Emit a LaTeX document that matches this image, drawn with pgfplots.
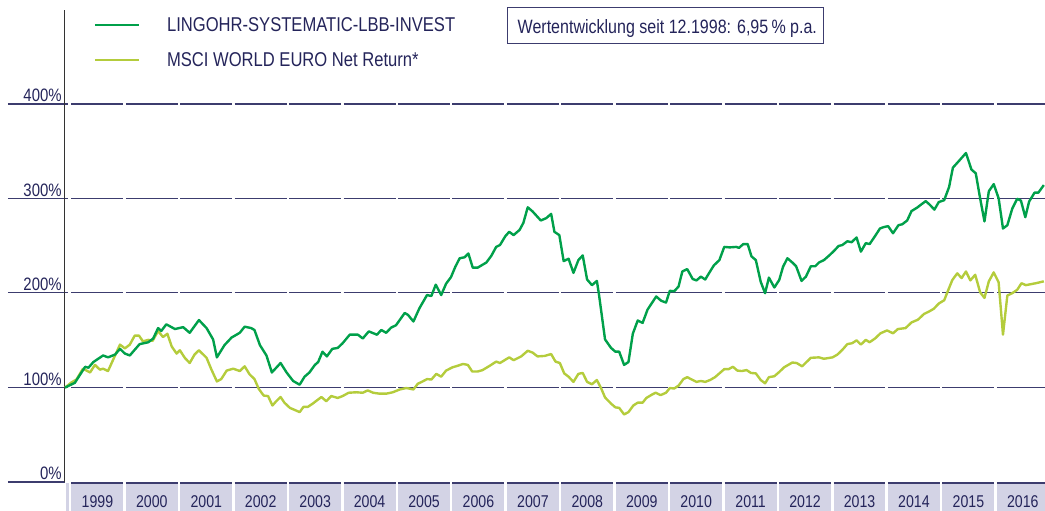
\documentclass[border=0pt]{standalone}
\usepackage{pgfplots}
\pgfplotsset{compat=1.18}
\usepackage{fontspec}
\setmainfont{Liberation Sans}[FakeStretch=0.83]

\definecolor{fundgreen}{HTML}{00A04A}
\definecolor{msciline}{HTML}{B4CC3C}
\definecolor{navy}{HTML}{24245A}
\definecolor{gridnavy}{HTML}{3C3C6E}
\definecolor{yearbox}{HTML}{D3D3E5}

% fund: LINGOHR-SYSTEMATIC-LBB-INVEST (indexed, 12.1998 = 100)
\pgfplotstableread{
t v
1998.91 100
1999.09 105
1999.28 122
1999.34 121
1999.43 127
1999.61 134
1999.70 132
1999.83 135
1999.92 141
2000.01 136
2000.10 134
2000.28 146
2000.44 148
2000.53 152
2000.62 163
2000.68 160
2000.77 167
2000.93 162
2001.08 164
2001.20 158
2001.37 171.5
2001.51 163
2001.63 151
2001.70 132
2001.84 145
2001.97 153
2002.12 158
2002.21 164.5
2002.33 163
2002.39 161
2002.49 145
2002.61 134
2002.71 116
2002.87 126
2002.98 116
2003.10 107
2003.22 103
2003.31 111.5
2003.40 116
2003.50 124
2003.56 127
2003.64 138
2003.72 133
2003.82 141
2003.92 142
2004.01 147
2004.14 156
2004.29 156
2004.38 152
2004.49 159.5
2004.64 156
2004.72 161
2004.81 158
2004.90 163.5
2004.99 166
2005.15 179
2005.21 177
2005.31 170
2005.42 184
2005.56 198
2005.64 197
2005.72 209
2005.82 198
2005.91 210
2006.00 217
2006.08 228
2006.16 237
2006.25 238
2006.32 242
2006.40 227
2006.49 227
2006.65 232.5
2006.74 239.5
2006.83 249
2006.90 251
2007.00 260.5
2007.07 265
2007.15 261.5
2007.26 267
2007.33 274.5
2007.41 291
2007.50 286.5
2007.65 277
2007.75 279.5
2007.84 284
2007.90 265
2007.99 261.5
2008.07 234
2008.16 236.5
2008.25 221.5
2008.34 235
2008.42 240
2008.50 214.5
2008.59 208.5
2008.68 213
2008.72 198
2008.83 151
2008.94 142
2009.02 138
2009.09 138
2009.18 124
2009.26 127
2009.34 157
2009.43 171
2009.52 168.5
2009.61 182.5
2009.77 196.5
2009.86 192
2009.95 190
2010.02 202.5
2010.10 202
2010.18 207
2010.25 223
2010.34 225.5
2010.44 215
2010.51 213.5
2010.59 217.5
2010.67 214.5
2010.77 224
2010.83 229.5
2010.93 235
2011.02 249
2011.12 248.5
2011.24 249
2011.29 248
2011.37 252
2011.45 252
2011.52 239
2011.60 235
2011.69 212
2011.77 200
2011.84 216.5
2011.94 206
2012.03 214
2012.10 228
2012.18 237
2012.27 232.5
2012.34 228.5
2012.44 213
2012.52 217.5
2012.61 228.5
2012.69 228.5
2012.76 232.5
2012.85 235
2012.94 239.5
2013.04 245
2013.12 250
2013.19 251
2013.28 255
2013.36 254
2013.45 259
2013.53 244
2013.62 253
2013.69 252
2013.79 260.5
2013.88 268.5
2013.95 270
2014.03 271
2014.12 263.5
2014.22 272
2014.29 273
2014.38 277
2014.46 287
2014.56 290.5
2014.65 294.5
2014.72 297.5
2014.79 294
2014.88 288.5
2014.96 296.5
2015.06 298.5
2015.15 312.5
2015.22 333
2015.33 340
2015.46 348.5
2015.56 331
2015.64 327
2015.72 300.5
2015.80 276
2015.88 308
2015.97 315.5
2016.06 300.5
2016.14 268.5
2016.22 272
2016.31 289.5
2016.40 300
2016.47 298
2016.55 280.5
2016.62 297
2016.72 306.5
2016.79 306.5
2016.89 314.5
}\fund

% benchmark: MSCI WORLD EURO Net Return
\pgfplotstableread{
t v
1998.91 100
1999.03 105.5
1999.12 108.5
1999.24 120
1999.37 116
1999.46 124
1999.55 119
1999.61 120
1999.70 117.5
1999.79 129
1999.92 145.5
2000.01 141.5
2000.10 145.5
2000.19 155
2000.27 155
2000.34 149
2000.44 150.5
2000.52 149.5
2000.62 160
2000.71 153.5
2000.79 157
2000.87 143.5
2000.96 136
2001.02 139.5
2001.11 131.5
2001.20 126
2001.29 135
2001.37 139.5
2001.51 131.5
2001.60 119
2001.70 106.5
2001.78 109
2001.88 118
2002.00 120
2002.12 117.5
2002.21 122.5
2002.30 114
2002.39 109
2002.47 98.5
2002.56 91.5
2002.64 91
2002.72 81
2002.79 85.5
2002.87 90
2002.94 84
2003.04 78.5
2003.22 74
2003.29 79.5
2003.37 79.5
2003.46 83
2003.62 90
2003.71 85.5
2003.80 91
2003.92 89
2004.01 91
2004.12 94.5
2004.26 95
2004.38 94.5
2004.47 97
2004.57 94.5
2004.69 93.5
2004.81 93.5
2004.93 95
2005.06 98
2005.18 99.5
2005.31 98
2005.39 104
2005.48 106.5
2005.56 109
2005.64 108.5
2005.73 114.5
2005.82 111.5
2005.91 118
2006.03 121.5
2006.12 123
2006.22 125
2006.31 124
2006.39 117
2006.49 117
2006.58 118.5
2006.71 123
2006.83 127.5
2006.90 126
2007.07 132
2007.15 129
2007.29 133
2007.41 139
2007.50 137
2007.59 133
2007.72 133.5
2007.84 135.5
2007.92 127.5
2008.00 126
2008.08 115
2008.16 111.5
2008.25 106
2008.34 114.5
2008.42 115.5
2008.50 106
2008.59 103.5
2008.68 108
2008.76 99
2008.83 89.5
2008.94 83
2009.02 79
2009.09 78.5
2009.18 71.5
2009.26 74
2009.35 81
2009.43 84
2009.52 84
2009.59 89
2009.69 92.5
2009.76 94.5
2009.85 92
2009.95 94.5
2010.02 99.5
2010.10 99
2010.18 102
2010.27 109
2010.34 111
2010.44 108
2010.51 106
2010.59 107
2010.67 106
2010.76 108
2010.85 111
2010.93 115
2011.02 119.5
2011.10 119.5
2011.18 122
2011.26 118
2011.34 117.5
2011.43 118.5
2011.51 115.5
2011.60 115
2011.69 108
2011.77 104.5
2011.84 111
2011.94 112
2012.03 116.5
2012.12 121.5
2012.27 126.5
2012.35 126
2012.45 122.5
2012.61 131.5
2012.76 132
2012.85 130.5
2013.01 132
2013.10 135
2013.19 140
2013.28 146
2013.37 147
2013.45 150
2013.53 145.5
2013.62 150.5
2013.69 148
2013.79 152
2013.89 157.5
2014.01 160.5
2014.12 157.5
2014.21 162
2014.35 163
2014.46 169
2014.58 172
2014.69 178
2014.78 180.5
2014.87 183.5
2014.96 189
2015.06 192.5
2015.15 205.5
2015.21 214
2015.30 221
2015.38 216
2015.46 223
2015.54 213.5
2015.63 219.5
2015.72 201
2015.80 195
2015.88 212.5
2015.97 222
2016.06 211.5
2016.14 156
2016.22 197.5
2016.31 200
2016.40 203.5
2016.48 210.5
2016.56 208.5
2016.74 210.5
2016.89 212.5
}\msci

\begin{document}
\begin{tikzpicture}
% picture frame in reference pixels (origin top left)
\begin{scope}[x=0.75pt, y=-0.75pt, shift={(-48.75pt,361.875pt)}]
  \useasboundingbox (0,0) rectangle (1045,511);
  % dashed-looking grid: one segment per year
  \foreach \gy in {388,293,199,104} {
    \draw[gridnavy, line width=1pt] (8,\gy) -- (68.5,\gy);
    \foreach \k in {0,...,17}
      \draw[gridnavy, line width=1pt] ({71.5+54.5*\k},\gy) -- ({123.5+54.5*\k},\gy);
  }
  \draw[gridnavy, line width=1pt] (8,482.5) -- (65,482.5);
  % year boxes
  \fill[yearbox] (66,484) rectangle (69.5,512);
  \foreach \k in {0,...,17} {
    \fill[yearbox] ({71.5+54.5*\k},483.5) rectangle ({123.5+54.5*\k},512);
    \draw[gridnavy, line width=1.5pt] ({71.5+54.5*\k},483.5) -- ({123.5+54.5*\k},483.5);
    \pgfmathtruncatemacro{\yr}{1999+\k}
    \node[navy, inner sep=0pt, font=\fontsize{12.8pt}{14pt}\selectfont] at ({97.5+54.5*\k},502.5) {\yr};
  }
  % legend
  \draw[fundgreen, line width=1.8pt] (95,25) -- (139,25);
  \node[navy, anchor=west, inner sep=0pt, font=\fontsize{15pt}{17pt}\selectfont] at (167,25) {LINGOHR-SYSTEMATIC-LBB-INVEST};
  \draw[msciline, line width=1.8pt] (95,60) -- (139,60);
  \node[navy, anchor=west, inner sep=0pt, font=\fontsize{15pt}{17pt}\selectfont] at (167,60) {MSCI WORLD EURO Net Return*};
  % performance box
  \draw[gridnavy, line width=0.75pt] (508.5,7.5) rectangle (824,43.5);
  \node[navy, anchor=base west, inner sep=0pt, font=\fontsize{14.5pt}{16pt}\selectfont] at (518,33.5) {Wertentwicklung seit 12.1998: 6,95\,\% p.a.};
\end{scope}

\begin{axis}[
  at={(0pt,0pt)}, anchor=south west,
  scale only axis,
  width=735pt, height=354.375pt,
  xmin=1998.9083, xmax=2016.8899,
  ymin=0, ymax=500,
  clip=false,
  axis x line=none,
  axis y line*=left,
  y axis line style={draw=black!80, line width=0.75pt},
  xtick=\empty,
  ytick={0,100,200,300,400},
  ytick style={draw=none},
  yticklabel={\pgfmathparse{int(\tick)}\pgfmathresult\%},
  yticklabel style={navy, anchor=base east, inner sep=0pt, xshift=-2.25pt, yshift=1.9pt,
    font=\fontsize{13.5pt}{15pt}\selectfont},
]
\addplot[msciline, line width=1.8pt, line join=round] table[x=t, y=v] {\msci};
\addplot[fundgreen, line width=1.8pt, line join=round] table[x=t, y=v] {\fund};
\end{axis}
\end{tikzpicture}
\end{document}
